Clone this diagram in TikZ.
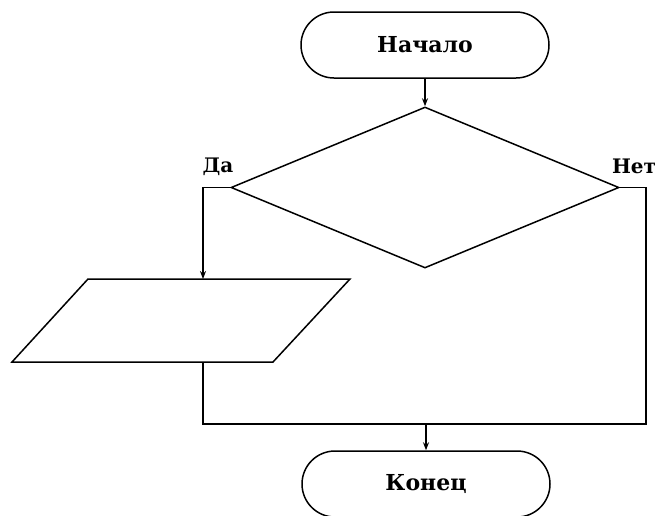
\documentclass[tikz,border=0pt]{standalone}
\usepackage{fontspec}
\setmainfont{DejaVu Serif}
\usetikzlibrary{shapes.geometric,arrows.meta}
\begin{document}
\begin{tikzpicture}[x=1pt,y=-1pt,
  line width=1.5pt,
  term/.style={draw,rectangle,rounded corners=33pt,minimum width=248pt,minimum height=66pt,inner sep=0pt,font=\bfseries\fontsize{22}{24}\selectfont},
  cond/.style={draw,diamond,minimum width=388pt,minimum height=161pt,inner sep=0pt},
  lbl/.style={font=\bfseries\fontsize{20}{22}\selectfont,inner sep=0pt},
  arr/.style={-{Stealth[length=8pt,width=6pt]}}]
\useasboundingbox (0,0) rectangle (661,515);
\node[term] (start) at (425,45) {Начало};
\node[cond] (d) at (425,187.5) {};
\node[term] (end) at (426,484) {Конец};
\coordinate (pa) at (88,279);
\coordinate (pb) at (350,279);
\coordinate (pc) at (273,362);
\coordinate (pd) at (12,362);
\draw (pa) -- (pb) -- (pc) -- (pd) -- cycle;
\node (io) at (181,320.5) {};
\coordinate (ptop) at (203,279);
\coordinate (pbot) at (203,362);
\coordinate (daL) at (203,187.5);
\coordinate (netR) at (646,187.5);
\coordinate (bl) at (203,424);
\coordinate (br) at (646,424);
\coordinate (merge) at (426,424);
\node[lbl] (da) at (218,167) {Да};
\node[lbl] (net) at (634,166) {Нет};
\draw[arr] (start.south) -- (d.north);
\draw[arr] (d.west) -- (daL) -- (ptop);
\draw (pbot) -- (bl) -- (br) -- (netR) -- (d.east);
\draw[arr] (merge) -- (end.north);
\end{tikzpicture}
\end{document}
